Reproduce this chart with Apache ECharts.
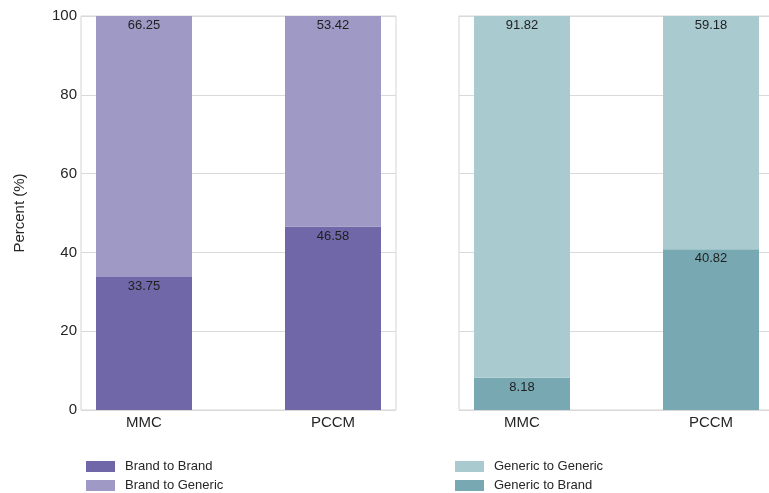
<!DOCTYPE html>
<html>
<head>
<meta charset="utf-8">
<script src="https://cdn.jsdelivr.net/npm/echarts@6/dist/echarts.min.js"></script>
<style>
html,body{margin:0;padding:0;background:#fff;}
#chart{width:769px;height:493px;}
</style>
</head>
<body>
<div id="chart"></div>
<script>
// Data
const categories = ['MMC', 'PCCM'];
const brandToBrand = [33.75, 46.58];
const brandToGeneric = [66.25, 53.42];
const genericToGeneric = [91.82, 59.18];
const genericToBrand = [8.18, 40.82];
const yTicks = [0, 20, 40, 60, 80, 100];

// Category slots: bars sit at slots 1 and 4 of 6 (axis without boundary gap)
const slotIndex = [1, 4];
const slotCount = 6;
function slots(labels) {
  const out = new Array(slotCount).fill('');
  slotIndex.forEach((s, i) => { out[s] = labels[i]; });
  return out;
}
function slotData(vals) {
  const out = new Array(slotCount).fill(null);
  slotIndex.forEach((s, i) => { out[s] = vals[i]; });
  return out;
}

const textColor = '#262626';
const frameColor = '#d4d4d4';
const font = 'Liberation Sans, Arial, sans-serif';

const chart = echarts.init(document.getElementById('chart'), null, {renderer: 'canvas'});

function xAxis(gridIndex) {
  return {
    type: 'category', gridIndex: gridIndex, boundaryGap: false,
    data: slots(categories),
    axisLine: {show: false}, axisTick: {show: false},
    axisLabel: {interval: 0, color: textColor, fontSize: 15, fontFamily: font, margin: 5},
    splitLine: {show: false}
  };
}
function yAxis(gridIndex, showLabels) {
  return {
    type: 'value', gridIndex: gridIndex, min: yTicks[0], max: yTicks[yTicks.length - 1],
    interval: yTicks[1] - yTicks[0],
    name: showLabels ? 'Percent (%)' : '', nameLocation: 'middle', nameGap: 54,
    nameTextStyle: {color: textColor, fontSize: 15, fontFamily: font},
    axisLine: {show: false}, axisTick: {show: false},
    axisLabel: {show: showLabels, color: textColor, fontSize: 15, fontFamily: font, margin: 4},
    splitLine: {show: true, lineStyle: {color: '#d9d9d9', width: 1}}
  };
}
function barLabel() {
  return {
    show: true, position: 'insideTop', distance: 3,
    color: '#1e1e1e', fontSize: 13, fontFamily: font,
    formatter: p => (p.value == null ? '' : p.value.toFixed(2))
  };
}
function bar(name, vals, color, axisIdx, stack) {
  return {
    name: name, type: 'bar', stack: stack,
    xAxisIndex: axisIdx, yAxisIndex: axisIdx,
    data: slotData(vals), barWidth: 96,
    itemStyle: {color: color},
    label: barLabel(),
    emphasis: {disabled: true}
  };
}

function legend(names, left) {
  return {
    data: names,
    orient: 'vertical', left: left, top: 460, height: 40,
    itemWidth: 29, itemHeight: 11, itemGap: 6,
    icon: 'rect', selectedMode: false, padding: 0,
    textStyle: {color: textColor, fontSize: 13, fontFamily: font, padding: [0, 0, 0, 5]}
  };
}

const option = {
  animation: false,
  backgroundColor: '#ffffff',
  grid: [
    {left: 81, top: 16, width: 315, height: 394, outerBoundsMode: 'none', containLabel: false, show: true, borderColor: frameColor, borderWidth: 1, backgroundColor: 'transparent'},
    {left: 459, top: 16, width: 315, height: 394, outerBoundsMode: 'none', containLabel: false, show: true, borderColor: frameColor, borderWidth: 1, backgroundColor: 'transparent'}
  ],
  xAxis: [xAxis(0), xAxis(1)],
  yAxis: [yAxis(0, true), yAxis(1, false)],
  legend: [
    legend(['Brand to Brand', 'Brand to Generic'], 86),
    legend(['Generic to Generic', 'Generic to Brand'], 455)
  ],
  series: [
    bar('Brand to Brand', brandToBrand, '#6f67a8', 0, 'left'),
    bar('Brand to Generic', brandToGeneric, '#9e99c5', 0, 'left'),
    bar('Generic to Brand', genericToBrand, '#78a9b3', 1, 'right'),
    bar('Generic to Generic', genericToGeneric, '#a9cacf', 1, 'right')
  ]
};
chart.setOption(option);
</script>
</body>
</html>
